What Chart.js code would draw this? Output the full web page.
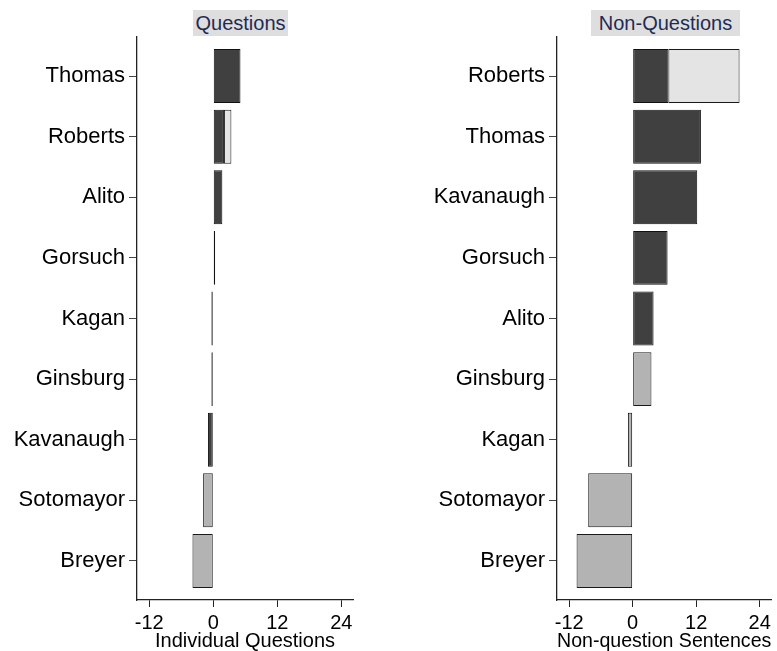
<!DOCTYPE html>
<html>
<head>
<meta charset="utf-8">
<script src="https://cdn.jsdelivr.net/npm/chart.js@4"></script>
<style>
  html, body { margin: 0; padding: 0; background: #fff; }
  body { width: 777px; height: 651px; position: relative; overflow: hidden; font-family: "Liberation Sans", Arial, sans-serif; }
  .wrap { position: absolute; top: 0; height: 651px; }
  .ttl { position: absolute; top: 10px; height: 26px; line-height: 26px; background: #dedede; color: #1f2b55; font-size: 20px; text-align: center; font-family: "Liberation Sans", Arial, sans-serif; }
</style>
</head>
<body>
<div class="ttl" style="left:193px;width:95px;">Questions</div>
<div class="ttl" style="left:591px;width:149px;">Non-Questions</div>
<div class="wrap" style="left:0;width:370px;"><canvas id="c1"></canvas></div>
<div class="wrap" style="left:380px;width:397px;"><canvas id="c2"></canvas></div>
<script>
// Left panel: Questions
const qNames = ["Thomas", "Roberts", "Alito", "Gorsuch", "Kagan", "Ginsburg", "Kavanaugh", "Sotomayor", "Breyer"];
const qDark  = [5.1, 2.0, 1.7, 0.35, null, null, -1.0, null, null];
const qLight = [null, 1.4, null, null, null, null, null, null, null];
const qGray  = [null, null, null, null, -0.35, -0.35, null, -1.9, -3.9];

// Right panel: Non-Questions
const nNames = ["Roberts", "Thomas", "Kavanaugh", "Gorsuch", "Alito", "Ginsburg", "Kagan", "Sotomayor", "Breyer"];
const nDark  = [6.75, 12.9, 12.2, 6.6, 3.95, null, null, null, null];
const nLight = [13.45, null, null, null, null, null, null, null, null];
const nGray  = [null, null, null, null, null, 3.55, -0.9, -8.4, -10.6];

const xTicks = [-12, 0, 12, 24];
const xMin = -14.3, xMax = 26.2;

function pts(arr) { return arr.map((v, i) => ({ x: v, y: i })); }

function makeChart(id, names, dark, light, gray, xTitle, yWidth, padRight) {
  const xFont = { family: "'Liberation Sans', Arial, sans-serif", size: 20, lineHeight: 1.0 };
  const yFont = { family: "'Liberation Sans', Arial, sans-serif", size: 22 };
  const common = { categoryPercentage: 1, barPercentage: 0.89, borderWidth: 1, borderSkipped: false };
  return new Chart(document.getElementById(id), {
    type: 'bar',
    data: {
      datasets: [
        Object.assign({ label: 'dark', data: pts(dark), backgroundColor: '#404040', borderColor: '#111111' }, common),
        Object.assign({ label: 'light', data: pts(light), backgroundColor: '#e4e4e4', borderColor: '#1a1a1a' }, common),
        Object.assign({ label: 'gray', data: pts(gray), backgroundColor: '#b3b3b3', borderColor: '#1a1a1a' }, common)
      ]
    },
    options: {
      indexAxis: 'y',
      responsive: true,
      maintainAspectRatio: false,
      animation: false,
      layout: { padding: { top: 37, right: padRight, left: 0, bottom: 0 } },
      plugins: { legend: { display: false }, tooltip: { enabled: false }, title: { display: false } },
      scales: {
        x: {
          type: 'linear', stacked: true, min: xMin, max: xMax,
          afterBuildTicks: s => { s.ticks = xTicks.map(v => ({ value: v })); },
          afterFit: s => { s.height = 51; },
          grid: { drawOnChartArea: false, drawTicks: true, tickLength: 7, color: '#222' },
          border: { display: true, color: '#222', width: 1.3 },
          ticks: { color: '#000', font: xFont, padding: 6, maxRotation: 0, callback: v => String(v) },
          title: { display: true, text: xTitle, color: '#000', font: xFont, padding: { top: 0, bottom: 0 } }
        },
        y: {
          type: 'linear', stacked: true, reverse: true, min: -0.645, max: 8.645, offset: false,
          afterBuildTicks: s => { s.ticks = names.map((n, i) => ({ value: i })); },
          afterFit: s => { s.width = yWidth; },
          grid: { offset: false, drawOnChartArea: false, drawTicks: true, tickLength: 8, color: '#444' },
          border: { display: true, color: '#222', width: 1.3 },
          ticks: { color: '#000', font: yFont, padding: 4, callback: v => names[v] }
        }
      }
    }
  });
}

makeChart('c1', qNames, qDark, qLight, qGray, 'Individual Questions', 137, 17);
makeChart('c2', nNames, nDark, nLight, nGray, 'Non-question Sentences', 177, 4);
</script>
</body>
</html>
